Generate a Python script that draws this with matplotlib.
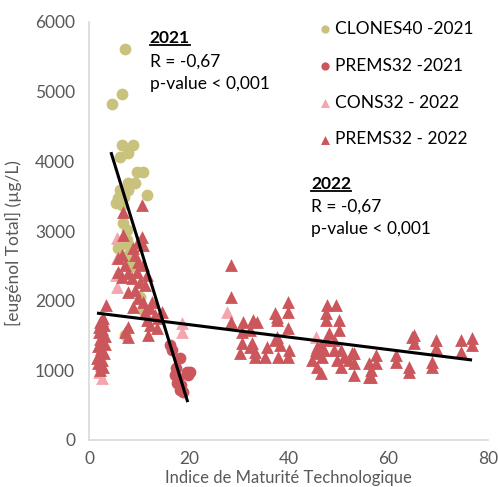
import matplotlib
matplotlib.use("Agg")
import matplotlib.pyplot as plt
import numpy as np
from matplotlib.lines import Line2D

plt.rcParams['font.family'] = ['Lato', 'DejaVu Sans']

# ---------------- data ----------------
clones21_x = [7.2, 6.6, 4.6, 6.6, 8.8, 7.8, 6.2, 9.6, 10.8, 7.8, 9.2, 6.2, 7.8, 11.6, 5.8,
              7.0, 5.4, 6.6, 6.8, 7.6, 7.8, 8.2, 5.8, 7.6, 8.8, 8.2, 10.2, 10.8, 7.2, 7.8, 8.6]
clones21_y = [5610, 4965, 4820, 4230, 4230, 4120, 4060, 3845, 3845, 3690, 3690, 3590, 3590, 3515, 3470,
              3490, 3400, 3370, 3115, 3015, 2800, 2625, 2755, 2870, 2725, 2480, 2050, 1865, 1505, 2655, 2555]

prems21_x = [16.2, 16.6, 18.2, 17.2, 19.8, 17.6, 18.2, 18.8, 17.8, 19.6, 17.4, 18.4, 20.2]
prems21_y = [1365, 1290, 1175, 930, 930, 820, 715, 690, 890, 975, 1035, 790, 975]

cons22_x = [2.6, 2.0, 5.6, 5.8, 5.6, 5.6, 5.4, 18.6, 18.6, 27.6, 45.6]
cons22_y = [890, 975, 2195, 2410, 2900, 2610, 2370, 1680, 1550, 1835, 1480]

prems22_x = [
    # x ~ 2
    2.2, 2.8, 1.8, 2.6, 2.0, 3.0, 2.4, 1.8, 2.8, 2.2, 3.2, 2.0, 2.6, 3.0, 2.2, 2.8, 3.4, 1.6, 3.2, 2.4, 2.0, 2.6,
    # x 5-15
    6.8, 10.6, 6.8, 10.6, 9.8, 10.8, 6.6, 5.8, 8.8, 9.2, 9.8, 10.8, 7.2, 5.8, 7.8, 9.6, 11.6, 6.6,
    8.6, 10.2, 11.2, 7.8, 9.2, 9.8, 10.8, 12.6, 8.8, 11.2, 12.2, 13.2, 11.6, 12.2, 11.8, 7.8, 7.8, 7.2,
    13.8, 14.6, 13.6,
    # x 28-41
    28.4, 28.4, 28.4, 30.8, 30.6, 32.8, 32.2, 30.6, 30.2, 32.2, 33.2, 35.6, 35.2, 37.2, 37.6, 37.6, 38.2,
    37.8, 39.8, 39.8, 39.8, 39.8, 40.2, 33.6, 32.6, 33.2, 37.6, 37.2,
    # x 44-54
    45.8, 46.6, 45.8, 44.8, 45.8, 45.6, 46.6, 47.2, 46.8, 47.8, 49.6, 47.6, 47.6, 48.2, 50.2, 50.2,
    47.8, 49.2, 49.2, 49.8, 50.6, 50.6, 51.2, 52.2, 52.8, 53.2, 53.2, 53.2,
    # x 55-78
    56.2, 56.2, 57.6, 57.6, 56.6, 56.6, 61.6, 61.6, 64.2, 64.2, 65.2, 65.2, 64.8, 69.6, 69.6, 68.8, 68.8,
    74.6, 74.6, 76.8, 76.8,
]
prems22_y = [
    1000, 1050, 1100, 1150, 1200, 1250, 1300, 1350, 1400, 1450, 1500, 1550, 1600, 1650, 1700, 1750, 1940, 1180, 1380, 1080, 1620, 1720,
    3270, 3370, 2940, 2910, 2840, 2800, 2655, 2610, 2755, 2655, 2555, 2510, 2510, 2410, 2395, 2410, 2370, 2340,
    2325, 2265, 2225, 2125, 2150, 2040, 1980, 1980, 1910, 1835, 1895, 1795, 1720, 1650, 1505, 1620, 1480, 1550,
    1750, 1835, 1605,
    2510, 2050, 1695, 1695, 1550, 1720, 1580, 1390, 1250, 1335, 1190, 1335, 1190, 1820, 1720, 1480, 1365,
    1190, 1980, 1835, 1605, 1190, 1290, 1695, 1390, 1265, 1765, 1435,
    1335, 960, 1050, 1150, 1250, 1290, 1365, 1290, 1190, 1935, 1935, 1820, 1720, 1535, 1720, 1580,
    1435, 1435, 1290, 1150, 1290, 1050, 1190, 1150, 1250, 1105, 935, 1250,
    1105, 905, 1220, 1105, 1005, 905, 1220, 1120, 1050, 975, 1505, 1390, 1480, 1435, 1320, 1120, 1050,
    1435, 1265, 1465, 1365,
]

# regression lines (slope, intercept, x-range)
fit21_coef = (-233.0, 5157.0)
fit21_range = (4.4, 19.8)
fit22_coef = (-8.96, 1836.0)
fit22_range = (1.6, 76.8)

legend_labels = ["CLONES40 -2021", "PREMS32 -2021", "CONS32 - 2022", "PREMS32 - 2022"]
xticks = [0, 20, 40, 60, 80]
yticks = [0, 1000, 2000, 3000, 4000, 5000, 6000]

# ---------------- styling ----------------
c_olive = "#C8C27C"
c_red = "#CB575C"
c_pink = "#F5A5AF"
grey = "#595959"

fig = plt.figure(figsize=(4.98, 4.87), dpi=100)
ax = fig.add_axes([89/498, (487-440)/487, (488-89)/498, (440-22)/487])

ms_c = 72
ms_t = 85
ax.scatter(clones21_x, clones21_y, s=ms_c, marker='o', color=c_olive, linewidths=0, label=legend_labels[0], zorder=3)
ax.scatter(prems21_x, prems21_y, s=ms_c, marker='o', color=c_red, linewidths=0, label=legend_labels[1], zorder=3)
ax.scatter(cons22_x, cons22_y, s=ms_t, marker='^', color=c_pink, linewidths=0, label=legend_labels[2], zorder=2)
ax.scatter(prems22_x, prems22_y, s=ms_t, marker='^', color=c_red, linewidths=0, label=legend_labels[3], zorder=3)

for coef, rng in [(fit21_coef, fit21_range), (fit22_coef, fit22_range)]:
    xx = np.array(rng)
    ax.plot(xx, coef[0]*xx + coef[1], color='black', lw=2.2, zorder=5, solid_capstyle='butt')

ax.set_xlim(0, 80)
ax.set_ylim(0, 6000)
ax.set_xticks(xticks)
ax.set_yticks(yticks)
ax.tick_params(length=0, labelsize=12.5, colors=grey, pad=10)
ax.tick_params(axis='x', pad=8)
for s in ['top', 'right']:
    ax.spines[s].set_visible(False)
for s in ['left', 'bottom']:
    ax.spines[s].set_color('#D9D9D9')
    ax.spines[s].set_linewidth(1.2)

ax.set_xlabel("Indice de Maturité Technologique", fontsize=12, color=grey, labelpad=0)
ax.xaxis.set_label_coords((89 + 488) / 2 / 498, 1/487, transform=fig.transFigure)
ax.xaxis.label.set_va('bottom')
ax.set_ylabel("[eugénol Total] (µg/L)", fontsize=12.5, color=grey)
ax.yaxis.set_label_coords(22/498, 0.5, transform=fig.transFigure)

leg = ax.legend(loc='upper left', bbox_to_anchor=(316/498, 1 - 21/487), bbox_transform=fig.transFigure,
                frameon=False, fontsize=12.5, handletextpad=0.1, labelspacing=1.2,
                handlelength=1.0, borderpad=0, borderaxespad=0, markerscale=0.7)

fs = 12.5
t1 = ax.text(12.2, 5770, "2021", fontsize=fs, fontweight='bold', va='center', ha='left')
ax.text(12.2, 5425, "R = -0,67", fontsize=fs, va='center', ha='left')
ax.text(12.2, 5110, "p-value < 0,001", fontsize=fs, va='center', ha='left')
t2 = ax.text(44.6, 3675, "2022", fontsize=fs, fontweight='bold', va='center', ha='left')
ax.text(44.6, 3345, "R = -0,67", fontsize=fs, va='center', ha='left')
ax.text(44.6, 3030, "p-value < 0,001", fontsize=fs, va='center', ha='left')

fig.canvas.draw()
r = fig.canvas.get_renderer()
for t in (t1, t2):
    bb = t.get_window_extent(r)
    y = bb.y0 + 1
    fig.add_artist(Line2D([bb.x0/fig.bbox.width, bb.x1/fig.bbox.width],
                          [y/fig.bbox.height, y/fig.bbox.height],
                          transform=fig.transFigure, color='black', lw=1.3))

fig.savefig("out.png", dpi=100)
